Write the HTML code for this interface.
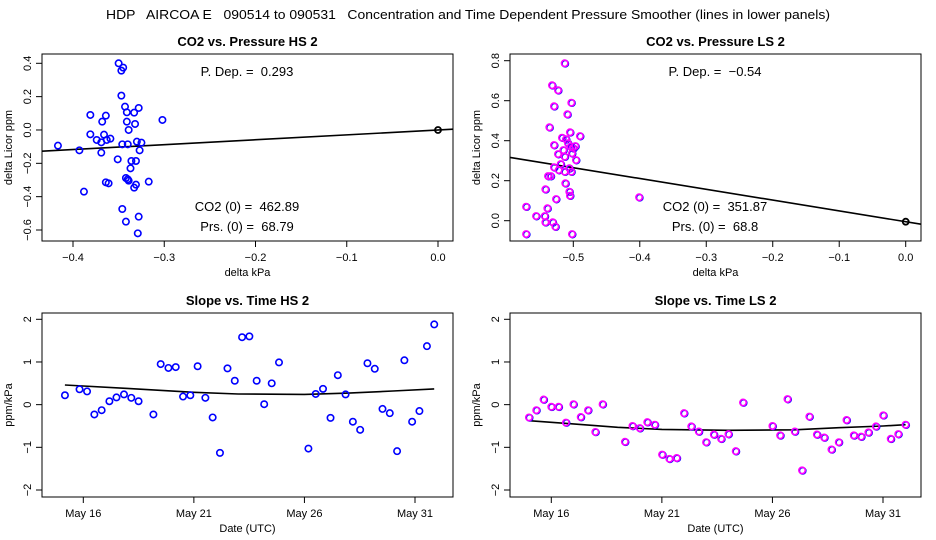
<!DOCTYPE html>
<html><head><meta charset="utf-8"><style>
html,body{margin:0;padding:0;background:#fff;}
svg{display:block;font-family:"Liberation Sans",Arial,sans-serif;}
svg text{white-space:pre;}
</style></head><body>
<svg id="root" width="936" height="540" viewBox="0 0 936 540">
<text x="468" y="19" text-anchor="middle" font-size="13" textLength="724" lengthAdjust="spacingAndGlyphs" xml:space="preserve">HDP   AIRCOA E   090514 to 090531   Concentration and Time Dependent Pressure Smoother (lines in lower panels)</text>
</svg>
<script>
// Panel 1: CO2 vs Pressure HS 2
const hsPresX = [-0.4165,-0.393,-0.388,-0.381,-0.381,-0.374,-0.369,-0.369,-0.368,-0.366,-0.364,-0.363,-0.359,-0.351,-0.350,-0.347,-0.345,-0.347,-0.346,-0.343,-0.341,-0.341,-0.340,-0.339,-0.337,-0.336,-0.333,-0.332,-0.331,-0.330,-0.328,-0.327,-0.325,-0.342,-0.340,-0.339,-0.364,-0.361,-0.331,-0.333,-0.317,-0.302,-0.346,-0.342,-0.328,-0.329];
const hsCo2Y = [-0.094,-0.122,-0.37,0.09,-0.026,-0.06,-0.074,-0.136,0.05,-0.028,0.086,-0.06,-0.052,-0.176,0.4,0.356,0.374,0.206,-0.086,0.14,0.106,0.05,-0.086,0,-0.23,-0.186,0.104,0.036,-0.186,-0.07,0.132,-0.122,-0.076,-0.288,-0.296,-0.304,-0.314,-0.32,-0.328,-0.346,-0.31,0.06,-0.474,-0.55,-0.52,-0.62];
const hsSlope = 0.293;
const hsXTicks = [-0.4,-0.3,-0.2,-0.1,0.0];
const hsXTickLabels = ["-0.4","-0.3","-0.2","-0.1","0.0"];
const hsYTicks = [-0.6,-0.4,-0.2,0.0,0.2,0.4];
const hsYTickLabels = ["-0.6","-0.4","-0.2","0.0","0.2","0.4"];
// Panel 2: CO2 vs Pressure LS 2
const lsPresX = [-0.513,-0.532,-0.523,-0.529,-0.503,-0.509,-0.536,-0.505,-0.490,-0.517,-0.511,-0.529,-0.523,-0.515,-0.508,-0.504,-0.5,-0.497,-0.502,-0.513,-0.496,-0.519,-0.529,-0.522,-0.513,-0.506,-0.503,-0.538,-0.534,-0.512,-0.542,-0.506,-0.505,-0.526,-0.401,-0.571,-0.539,-0.556,-0.543,-0.542,-0.531,-0.527,-0.571,-0.502];
const lsCo2Y = [0.787,0.677,0.652,0.572,0.59,0.532,0.467,0.442,0.423,0.415,0.407,0.378,0.333,0.353,0.387,0.37,0.362,0.373,0.337,0.32,0.303,0.283,0.267,0.253,0.245,0.262,0.245,0.223,0.223,0.187,0.157,0.145,0.125,0.108,0.117,0.07,0.062,0.023,0.023,-0.008,-0.008,-0.03,-0.067,-0.067];
const lsSlope = -0.54;
const lsXTicks = [-0.5,-0.4,-0.3,-0.2,-0.1,0.0];
const lsXTickLabels = ["-0.5","-0.4","-0.3","-0.2","-0.1","0.0"];
const lsYTicks = [0.0,0.2,0.4,0.6,0.8];
const lsYTickLabels = ["0.0","0.2","0.4","0.6","0.8"];
// Panel 3: Slope vs Time HS 2 (days since May 16)
const hsTime = [-0.83,-0.17,0.17,0.5,0.83,1.18,1.5,1.84,2.17,2.5,3.17,3.5,3.85,4.18,4.51,4.84,5.17,5.52,5.85,6.18,6.52,6.85,7.18,7.51,7.84,8.18,8.52,8.85,10.18,10.51,10.84,11.18,11.51,11.86,12.19,12.52,12.85,13.18,13.53,13.86,14.19,14.52,14.87,15.2,15.54,15.87];
const hsSlopeVals = [0.22,0.36,0.31,-0.23,-0.13,0.08,0.17,0.24,0.16,0.08,-0.23,0.95,0.86,0.88,0.19,0.22,0.9,0.16,-0.3,-1.13,0.85,0.56,1.58,1.6,0.56,0.01,0.5,0.99,-1.03,0.25,0.37,-0.31,0.69,0.24,-0.4,-0.59,0.97,0.84,-0.1,-0.2,-1.09,1.04,-0.4,-0.15,1.37,1.88];
const hsSmoothT = [-0.83,2,5,7,10,12,14,15.87];
const hsSmoothV = [0.46,0.38,0.29,0.25,0.24,0.27,0.32,0.37];
// Panel 4: Slope vs Time LS 2
const lsTime = [-1.01,-0.68,-0.35,0,0.33,0.66,1.0,1.33,1.66,1.99,2.32,3.33,3.67,4.0,4.34,4.68,5.01,5.34,5.67,6.0,6.33,6.67,7.0,7.35,7.68,8.01,8.34,8.67,10.0,10.35,10.68,11.01,11.34,11.67,12.01,12.34,12.67,13.0,13.35,13.68,14.01,14.34,14.68,15.01,15.35,15.69,16.02];
const lsSlopeVals = [-0.3,-0.13,0.12,-0.05,-0.05,-0.42,0.01,-0.29,-0.13,-0.64,0.01,-0.87,-0.5,-0.55,-0.41,-0.47,-1.17,-1.27,-1.25,-0.2,-0.51,-0.63,-0.88,-0.7,-0.8,-0.69,-1.09,0.05,-0.5,-0.72,0.13,-0.63,-1.54,-0.28,-0.7,-0.77,-1.05,-0.88,-0.36,-0.72,-0.75,-0.65,-0.51,-0.25,-0.8,-0.69,-0.47];
const lsSmoothT = [-1.01,1,3,5,8,11,13,15,16.02];
const lsSmoothV = [-0.375,-0.45,-0.53,-0.58,-0.6,-0.59,-0.54,-0.5,-0.47];
const timeTicks = [0,5,10,15];
const timeTickLabels = ["May 16","May 21","May 26","May 31"];
const slopeTicks = [-2,-1,0,1,2];
const slopeTickLabels = ["-2","-1","0","1","2"];

const NS = "http://www.w3.org/2000/svg";
const root = document.getElementById('root');
function mk(tag, attrs, parent){ const e=document.createElementNS(NS,tag); for(const k in attrs) e.setAttribute(k,attrs[k]); (parent||root).appendChild(e); return e; }
function lin(d0,d1,r0,r1){ return v => r0 + (v-d0)*(r1-r0)/(d1-d0); }

function panel(o){
  const g = mk('g',{});
  
  
  const L=o.box[0], T=o.box[1], R=o.box[2], B=o.box[3];
  const cx=(L+R)/2;
  const t = mk('text',{x:cx,y:T-8,'text-anchor':'middle','font-size':13,'font-weight':'bold'},g);
  t.textContent=o.title;
  
  
  const box = mk('rect',{x:L,y:T,width:R-L,height:B-T,fill:'none',stroke:'#000','stroke-width':1},g);
  
  
  o.xt.forEach((v,i)=>{ const x=o.sx(v);
    mk('line',{x1:x,y1:B,x2:x,y2:B+6,stroke:'#000'},g);
    const tx=mk('text',{x:x,y:B+20,'text-anchor':'middle','font-size':11},g);
    tx.textContent=o.xl[i].replace('-','\u2212');
    
    
  });
  mk('line',{x1:o.sx(o.xt[0]),y1:B,x2:o.sx(o.xt[o.xt.length-1]),y2:B,stroke:'#000'},g);
  o.yt.forEach((v,i)=>{ const y=o.sy(v);
    mk('line',{x1:L,y1:y,x2:L-6,y2:y,stroke:'#000'},g);
    const ty=mk('text',{x:0,y:0,'text-anchor':'middle','font-size':11,transform:`translate(${L-11},${y}) rotate(-90)`},g);
    ty.textContent=o.yl[i].replace('-','\u2212');
    
    
  });
  const xa=mk('text',{x:cx,y:B+35,'text-anchor':'middle','font-size':11},g);
  xa.textContent=o.xlab;
  
  
  const ya=mk('text',{x:0,y:0,'text-anchor':'middle','font-size':11,transform:`translate(${L-30},${(T+B)/2}) rotate(-90)`},g);
  ya.textContent=o.ylab;
  
  
  return g;
}
function points(g,xs,ys,sx,sy,magenta){
  xs.forEach((xv,i)=>{
    if(magenta){
      const c0=mk('circle',{cx:sx(xv)+0.6,cy:sy(ys[i])+0.4,r:3.2,fill:'none',stroke:'#0000ff','stroke-width':1.5},g);
      
      
    }
    const c=mk('circle',{cx:sx(xv),cy:sy(ys[i]),r:3.2,fill:'none',stroke:magenta?'#ff00ff':'#0000ff','stroke-width':1.6},g);
    
    
  });
}
function polyline(g,xs,ys,sx,sy){
  const p=xs.map((x,i)=>sx(x).toFixed(1)+','+sy(ys[i]).toFixed(1)).join(' ');
  const l=mk('polyline',{points:p,fill:'none',stroke:'#000','stroke-width':1.6},g);
  
  
}
function txt(g,x,y,s,name){ const t=mk('text',{x:x,y:y,'text-anchor':'middle','font-size':13},g); t.textContent=s;
  
   }

// Panel 1
{
  const box=[42,54,453,241];
  const sx=lin(-0.4,0.0,73,438), sy=lin(0.4,-0.6,63.3,230);
  const g=panel({name:'co2-vs-pressure-hs2',title:'CO2 vs. Pressure HS 2',box,sx,sy,xt:hsXTicks,xl:hsXTickLabels,yt:hsYTicks,yl:hsYTickLabels,xlab:'delta kPa',ylab:'delta Licor ppm'});
  const xl=-0.4+(box[0]-73)*0.4/365, xr=-0.4+(box[2]-73)*0.4/365;
  polyline(g,[xl,xr],[hsSlope*xl,hsSlope*xr],sx,sy);
  points(g,hsPresX,hsCo2Y,sx,sy,false);
  const z=mk('circle',{cx:sx(0),cy:sy(0),r:3,fill:'none',stroke:'#000','stroke-width':1.8},g);
  
  
  txt(g,247,76,'P. Dep. =  0.293','pressure-dependence-label');
  txt(g,247,211,'CO2 (0) =  462.89','co2-zero-label');
  txt(g,247,231,'Prs. (0) =  68.79','pressure-zero-label');
}
// Panel 2
{
  const box=[510,54,921,241];
  const sx=lin(-0.5,0.0,573.3,905.7), sy=lin(0.8,0.0,60.7,220.7);
  const g=panel({name:'co2-vs-pressure-ls2',title:'CO2 vs. Pressure LS 2',box,sx,sy,xt:lsXTicks,xl:lsXTickLabels,yt:lsYTicks,yl:lsYTickLabels,xlab:'delta kPa',ylab:'delta Licor ppm'});
  const xl=-0.5+(box[0]-573.3)*0.5/332.4, xr=-0.5+(box[2]-573.3)*0.5/332.4;
  polyline(g,[xl,xr],[lsSlope*xl-0.005,lsSlope*xr-0.005],sx,sy);
  points(g,lsPresX,lsCo2Y,sx,sy,true);
  const z=mk('circle',{cx:sx(0),cy:sy(-0.005),r:3,fill:'none',stroke:'#000','stroke-width':1.8},g);
  
  
  txt(g,715,76,'P. Dep. =  \u22120.54','pressure-dependence-label');
  txt(g,715,211,'CO2 (0) =  351.87','co2-zero-label');
  txt(g,715,231,'Prs. (0) =  68.8','pressure-zero-label');
}
// Panel 3
{
  const box=[42,313,453,497];
  const sx=lin(0,15,83.3,415), sy=lin(2,-2,319.3,490);
  const g=panel({name:'slope-vs-time-hs2',title:'Slope vs. Time HS 2',box,sx,sy,xt:timeTicks,xl:timeTickLabels,yt:slopeTicks,yl:slopeTickLabels,xlab:'Date (UTC)',ylab:'ppm/kPa'});
  polyline(g,hsSmoothT,hsSmoothV,sx,sy);
  points(g,hsTime,hsSlopeVals,sx,sy,false);
}
// Panel 4
{
  const box=[510,313,921,497];
  const sx=lin(0,15,551.3,883), sy=lin(2,-2,319.3,490);
  const g=panel({name:'slope-vs-time-ls2',title:'Slope vs. Time LS 2',box,sx,sy,xt:timeTicks,xl:timeTickLabels,yt:slopeTicks,yl:slopeTickLabels,xlab:'Date (UTC)',ylab:'ppm/kPa'});
  polyline(g,lsSmoothT,lsSmoothV,sx,sy);
  points(g,lsTime,lsSlopeVals,sx,sy,true);
}
</script>
</body></html>
